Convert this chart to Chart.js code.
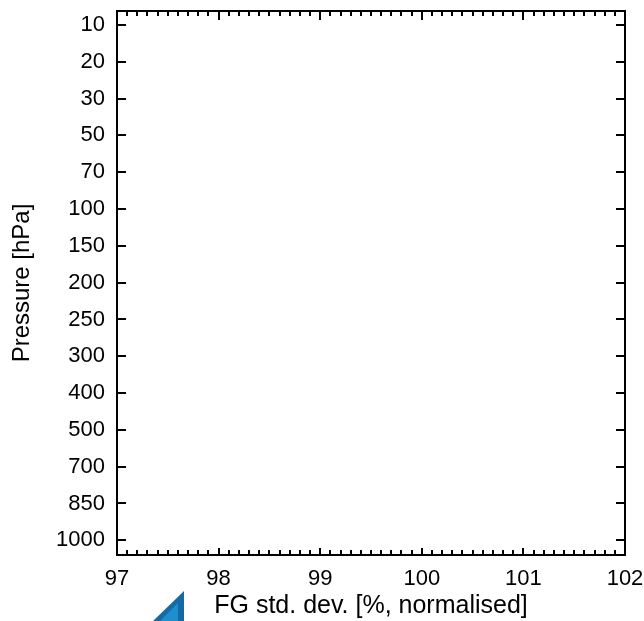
<!DOCTYPE html>
<html>
<head>
<meta charset="utf-8">
<script src="https://cdn.jsdelivr.net/npm/chart.js@4"></script>
<style>
  html, body { margin: 0; padding: 0; background: #fff; }
  #grafica { display: block; }
</style>
</head>
<body>
<canvas id="grafica" width="644" height="621"></canvas>
<script>
// niveles de presion (eje y, de arriba a abajo)
var niveles = ['10', '20', '30', '50', '70', '100', '150', '200', '250', '300', '400', '500', '700', '850', '1000']
// eje x
var xMin = 97
var xMax = 102
var xMenores = 10 // subdivisiones entre marcas mayores
// serie (vacia en la figura)
var valores = []

var marco = {
    id: 'marco',
    afterDraw: function (chart) {
        var ctx = chart.ctx
        var a = chart.chartArea
        var sx = chart.scales.x
        var sy = chart.scales.y
        ctx.save()
        ctx.strokeStyle = '#000'
        ctx.lineWidth = 2
        ctx.strokeRect(a.left, a.top, a.right - a.left, a.bottom - a.top)
        ctx.beginPath()
        var n = (xMax - xMin) * xMenores
        for (var i = 0; i <= n; i++) {
            var px = Math.round(sx.getPixelForValue(xMin + i / xMenores))
            var mayor = (i % xMenores == 0)
            var lb = mayor ? 7 : 5
            var lt = mayor ? 9 : 5
            ctx.moveTo(px, a.bottom)
            ctx.lineTo(px, a.bottom - lb)
            ctx.moveTo(px, a.top)
            ctx.lineTo(px, a.top + lt)
        }
        for (var j = 0; j < niveles.length; j++) {
            var py = Math.round(sy.getPixelForValue(j))
            ctx.moveTo(a.left, py)
            ctx.lineTo(a.left + 9, py)
            ctx.moveTo(a.right, py)
            ctx.lineTo(a.right - 9, py)
        }
        ctx.stroke()
        // logo recortado abajo
        ctx.fillStyle = '#1769a6'
        ctx.beginPath()
        ctx.moveTo(184, 591)
        ctx.lineTo(184, 621)
        ctx.lineTo(153, 621)
        ctx.closePath()
        ctx.fill()
        ctx.fillStyle = '#1d8fd0'
        ctx.beginPath()
        ctx.moveTo(178, 603)
        ctx.lineTo(178, 621)
        ctx.lineTo(160, 621)
        ctx.closePath()
        ctx.fill()
        ctx.restore()
    }
}

var grafica = new Chart('grafica', {
    type: 'scatter',
    data: {
        datasets: [{ data: valores, borderColor: '#000', backgroundColor: '#000' }]
    },
    plugins: [marco],
    options: {
        responsive: false,
        animation: false,
        layout: { padding: { top: 11, right: 19, left: 0, bottom: 0 } },
        plugins: { legend: { display: false }, tooltip: { enabled: false } },
        scales: {
            x: {
                type: 'linear',
                min: xMin,
                max: xMax,
                afterFit: function (s) {
                    s.height = 66
                    s.paddingLeft = 0
                    s.paddingRight = 0
                },
                grid: { display: false, drawTicks: false },
                border: { display: false },
                ticks: {
                    stepSize: 1,
                    padding: 11,
                    maxRotation: 0,
                    color: '#000',
                    font: { family: 'Liberation Sans', size: 22 }
                },
                title: {
                    display: true,
                    text: 'FG std. dev. [%, normalised]',
                    color: '#000',
                    padding: { top: 0, bottom: 0 },
                    font: { family: 'Liberation Sans', size: 25 }
                }
            },
            y: {
                type: 'linear',
                reverse: true,
                min: -0.38,
                max: niveles.length - 1 + 0.4,
                afterFit: function (s) {
                    s.width = 117
                    s.paddingTop = 0
                    s.paddingBottom = 0
                },
                afterBuildTicks: function (s) {
                    s.ticks = niveles.map(function (t, k) { return { value: k } })
                },
                grid: { display: false, drawTicks: false },
                border: { display: false },
                ticks: {
                    padding: 12,
                    color: '#000',
                    font: { family: 'Liberation Sans', size: 22 },
                    callback: function (v) { return niveles[v] }
                },
                title: {
                    display: true,
                    text: 'Pressure [hPa]',
                    color: '#000',
                    padding: { top: 8, bottom: 0 },
                    font: { family: 'Liberation Sans', size: 24 }
                }
            }
        }
    }
})
</script>
</body>
</html>
